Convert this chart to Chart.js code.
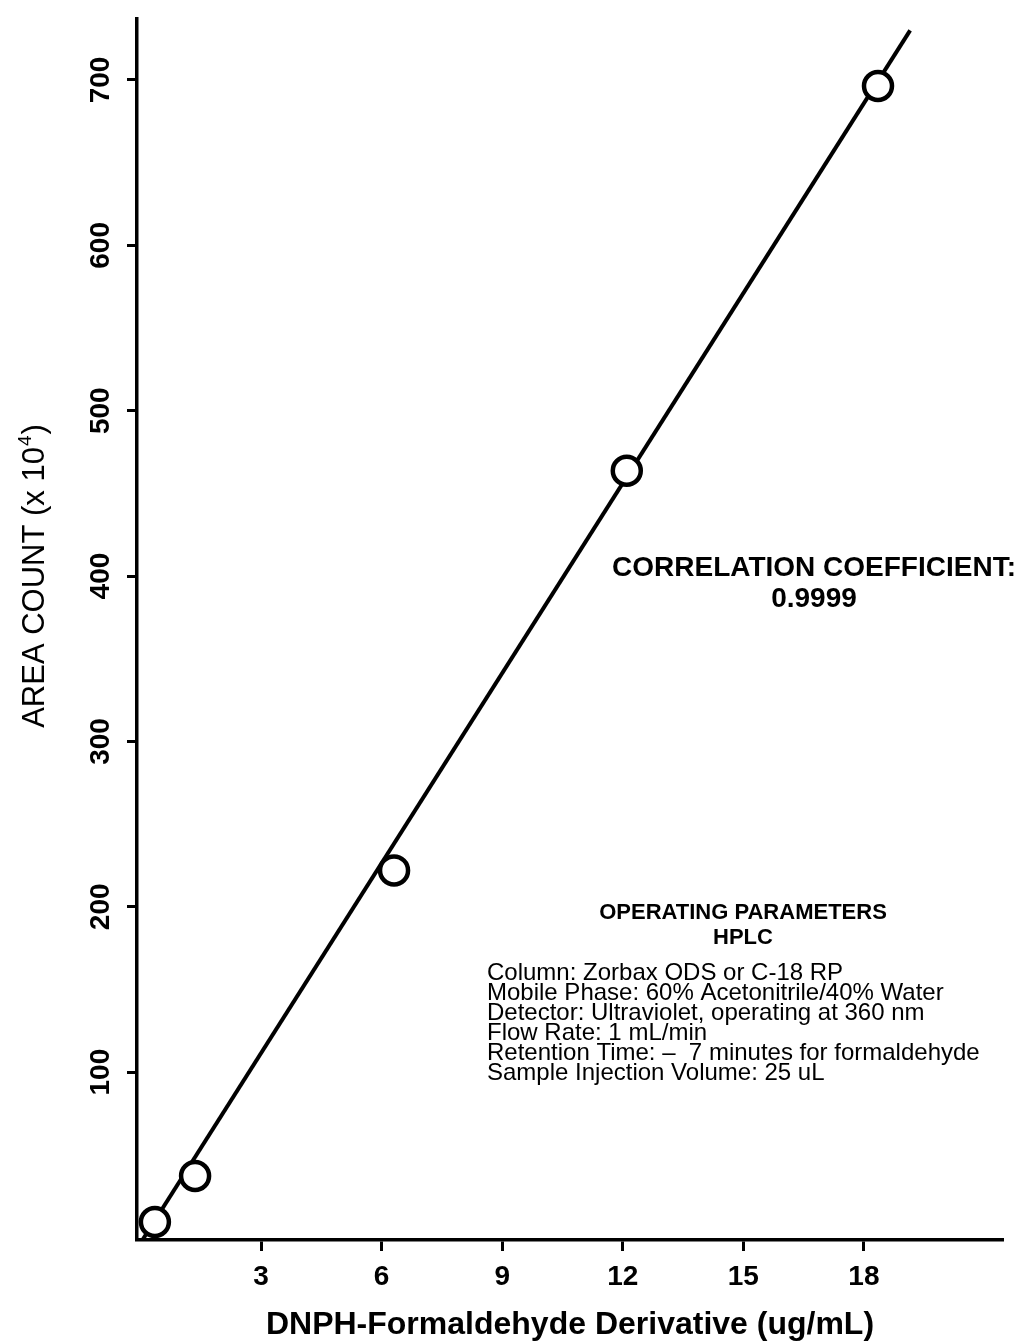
<!DOCTYPE html>
<html>
<head>
<meta charset="utf-8">
<script src="https://cdn.jsdelivr.net/npm/chart.js@4/dist/chart.umd.min.js"></script>
<style>
  body { margin: 0; background: #fff; }
  #wrap { width: 1025px; height: 1342px; position: relative; }
</style>
</head>
<body>
<div id="wrap"><canvas id="calib"></canvas></div>
<script>
'use strict';

// calibration points
const concentration = [0.36, 1.36, 6.31, 12.1, 18.35];
const areaCount = [9.4, 37.2, 222, 463.7, 696.4];

// fitted line (two end points)
const fitX = [0.05, 19.15];
const fitY = [-1.5, 730];

const xTicks = [3, 6, 9, 12, 15, 18];
const yTicks = [100, 200, 300, 400, 500, 600, 700];

const paramLines = [
    'Column: Zorbax ODS or C-18 RP',
    'Mobile Phase: 60% Acetonitrile/40% Water',
    'Detector: Ultraviolet, operating at 360 nm',
    'Flow Rate: 1 mL/min',
    'Retention Time: \u2013  7 minutes for formaldehyde',
    'Sample Injection Volume: 25 uL'
];

const FONT = '"Liberation Sans", Arial, Helvetica, sans-serif';

const textPlugin = {
    id: 'texts',
    afterDraw(chart) {
        const ctx = chart.ctx;
        ctx.save();
        ctx.fillStyle = '#000';

        // y axis title with superscript
        ctx.save();
        ctx.translate(44, 577);
        ctx.rotate(-Math.PI / 2);
        ctx.textBaseline = 'alphabetic';
        ctx.textAlign = 'left';
        const main = 'AREA COUNT (x 10';
        ctx.font = '31px ' + FONT;
        const w1 = ctx.measureText(main).width;
        ctx.font = '19px ' + FONT;
        const w2 = ctx.measureText('4').width;
        ctx.font = '31px ' + FONT;
        const w3 = ctx.measureText(')').width;
        let start = -(w1 + w2 + w3) / 2;
        ctx.fillText(main, start, 0);
        ctx.font = '19px ' + FONT;
        ctx.fillText('4', start + w1 + 1, -13);
        ctx.font = '31px ' + FONT;
        ctx.fillText(')', start + w1 + w2 + 2, 0);
        ctx.restore();

        // correlation coefficient
        ctx.textAlign = 'center';
        ctx.textBaseline = 'middle';
        ctx.font = 'bold 28px ' + FONT;
        ctx.fillText('CORRELATION COEFFICIENT:', 814, 568);
        ctx.fillText('0.9999', 814, 599);

        // operating parameters block
        ctx.font = 'bold 22px ' + FONT;
        ctx.fillText('OPERATING PARAMETERS', 743, 913);
        ctx.fillText('HPLC', 743, 938);
        ctx.textAlign = 'left';
        ctx.font = '24px ' + FONT;
        paramLines.forEach((line, i) => {
            ctx.fillText(line, 487, 973 + i * 20);
        });
        ctx.restore();
    }
};

function main() {
    const ctx = document.getElementById('calib');
    const points = concentration.map((x, i) => ({ x: x, y: areaCount[i] }));
    const fit = fitX.map((x, i) => ({ x: x, y: fitY[i] }));

    new Chart(ctx, {
        type: 'scatter',
        data: {
            datasets: [{
                data: points,
                pointStyle: 'circle',
                pointRadius: 14,
                pointBorderWidth: 4.5,
                pointBackgroundColor: '#fff',
                pointBorderColor: '#000',
                showLine: false
            }, {
                data: fit,
                showLine: true,
                borderColor: '#000',
                borderWidth: 4,
                pointRadius: 0
            }]
        },
        options: {
            responsive: true,
            maintainAspectRatio: false,
            animation: false,
            layout: { padding: { top: 18, right: 22, left: 0, bottom: 0 } },
            plugins: {
                legend: { display: false },
                tooltip: { enabled: false }
            },
            scales: {
                x: {
                    type: 'linear',
                    min: -0.085,
                    max: 21.46,
                    afterBuildTicks: (scale) => {
                        scale.ticks = xTicks.map(v => ({ value: v }));
                    },
                    afterFit: (scale) => { scale.height = 102; },
                    border: { display: true, color: '#000', width: 3.5 },
                    grid: {
                        drawOnChartArea: false,
                        drawTicks: true,
                        tickLength: 11,
                        tickWidth: 3,
                        tickColor: '#000',
                        color: '#000'
                    },
                    ticks: {
                        autoSkip: false,
                        maxRotation: 0,
                        padding: 9,
                        color: '#000',
                        font: { family: FONT, size: 28, weight: 'bold' }
                    },
                    title: {
                        display: true,
                        text: 'DNPH-Formaldehyde Derivative (ug/mL)',
                        color: '#000',
                        font: { family: FONT, size: 32, weight: 'bold', lineHeight: 1 },
                        padding: { top: 0, bottom: 1 }
                    }
                },
                y: {
                    type: 'linear',
                    min: -1.5,
                    max: 737,
                    afterBuildTicks: (scale) => {
                        scale.ticks = yTicks.map(v => ({ value: v }));
                    },
                    afterFit: (scale) => { scale.width = 137; },
                    border: { display: true, color: '#000', width: 3.5 },
                    grid: {
                        drawOnChartArea: false,
                        drawTicks: true,
                        tickLength: 10,
                        tickWidth: 3,
                        tickColor: '#000',
                        color: '#000'
                    },
                    ticks: {
                        autoSkip: false,
                        minRotation: 90,
                        maxRotation: 90,
                        crossAlign: 'center',
                        padding: 2,
                        color: '#000',
                        font: { family: FONT, size: 28, weight: 'bold' }
                    }
                }
            }
        },
        plugins: [textPlugin]
    });
}

window.onload = main;
</script>
</body>
</html>
